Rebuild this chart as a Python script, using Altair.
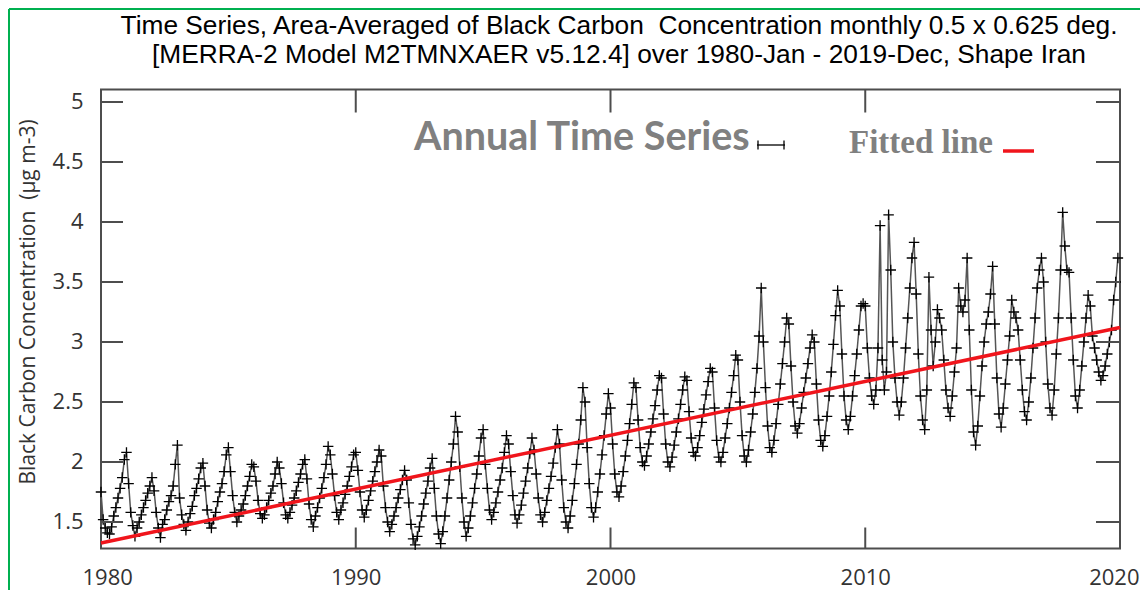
import altair as alt
import pandas as pd

# ---------------- data ----------------
start_year = 1980
months_per_year = 12

values_1980s = [
    1.75, 1.52, 1.45, 1.41, 1.40, 1.46, 1.55, 1.62, 1.70, 1.78, 1.87, 2.02,
    2.08, 1.82, 1.58, 1.47, 1.38, 1.45, 1.50, 1.56, 1.62, 1.68, 1.74, 1.80,
    1.87, 1.76, 1.58, 1.45, 1.37, 1.48, 1.52, 1.60, 1.67, 1.72, 1.80, 1.98,
    2.14, 1.70, 1.56, 1.48, 1.43, 1.50, 1.57, 1.63, 1.72, 1.78, 1.86, 1.95,
    1.99, 1.80, 1.60, 1.49, 1.45, 1.52, 1.58, 1.67, 1.75, 1.82, 1.92, 2.06,
    2.12, 1.92, 1.72, 1.58, 1.50, 1.55, 1.60, 1.65, 1.72, 1.80, 1.88, 1.98,
    1.96, 1.84, 1.68, 1.57, 1.53, 1.56, 1.62, 1.68, 1.74, 1.80, 1.90, 2.00,
    1.95, 1.82, 1.66, 1.56, 1.53, 1.58, 1.64, 1.70, 1.76, 1.83, 1.90, 1.98,
    2.02, 1.86, 1.65, 1.52, 1.46, 1.55, 1.62, 1.70, 1.78, 1.87, 1.98, 2.13,
    2.06, 1.90, 1.72, 1.58, 1.52, 1.60, 1.66, 1.73, 1.80, 1.88, 1.96, 2.06,
]
values_1990s = [
    2.08, 1.93, 1.75, 1.60, 1.54, 1.60, 1.68, 1.76, 1.84, 1.92, 2.00, 2.10,
    2.05, 1.80, 1.62, 1.50, 1.42, 1.48, 1.55, 1.62, 1.70, 1.77, 1.85, 1.93,
    1.85, 1.66, 1.48, 1.36, 1.31, 1.38, 1.46, 1.55, 1.65, 1.74, 1.84, 1.95,
    2.03, 1.78, 1.55, 1.40, 1.32, 1.42, 1.55, 1.70, 1.85, 2.00, 2.15, 2.38,
    2.25, 1.96, 1.70, 1.50, 1.38, 1.45, 1.55, 1.66, 1.78, 1.90, 2.05, 2.20,
    2.27, 1.98, 1.78, 1.60, 1.52, 1.58, 1.66, 1.75, 1.85, 1.95, 2.08, 2.22,
    2.15, 1.92, 1.72, 1.56, 1.49, 1.56, 1.64, 1.74, 1.84, 1.95, 2.07, 2.20,
    2.10, 1.90, 1.70, 1.56, 1.50, 1.58, 1.68, 1.78, 1.88, 1.99, 2.12, 2.27,
    2.15, 1.85, 1.62, 1.50, 1.45, 1.55, 1.68, 1.82, 1.98, 2.15, 2.35, 2.62,
    2.50, 2.12, 1.82, 1.62, 1.54, 1.62, 1.75, 1.90, 2.06, 2.22, 2.40, 2.57,
]
values_2000s = [
    2.45, 2.15, 1.90, 1.75, 1.71, 1.80, 1.92, 2.05, 2.18, 2.32, 2.48, 2.66,
    2.62, 2.35, 2.12, 2.00, 1.97, 2.05, 2.15, 2.25, 2.36, 2.47, 2.60, 2.72,
    2.70, 2.40, 2.15, 2.00, 1.96, 2.04, 2.14, 2.25, 2.36, 2.48, 2.60, 2.71,
    2.68, 2.42, 2.20, 2.08, 2.05, 2.12, 2.22, 2.33, 2.44, 2.56, 2.67, 2.78,
    2.75, 2.45, 2.18, 2.04, 2.00, 2.08, 2.20, 2.32, 2.45, 2.58, 2.72, 2.89,
    2.85, 2.50, 2.22, 2.05, 2.00, 2.10, 2.25, 2.40, 2.58, 2.78, 3.05, 3.45,
    3.00, 2.62, 2.30, 2.12, 2.08, 2.18, 2.32, 2.48, 2.65, 2.82, 3.00, 3.20,
    3.15, 2.80, 2.50, 2.30, 2.24, 2.32, 2.45, 2.58, 2.70, 2.82, 2.95, 3.06,
    3.00, 2.65, 2.35, 2.18, 2.13, 2.22, 2.38, 2.55, 2.75, 2.98, 3.22, 3.43,
    3.30, 2.90, 2.55, 2.35, 2.27, 2.38, 2.55, 2.72, 2.90, 3.10, 3.30, 3.32,
]
values_2010s = [
    3.30, 2.95, 2.70, 2.55, 2.48, 2.60, 2.95, 3.97, 2.85, 2.60, 2.75, 4.06,
    3.60, 3.00, 2.70, 2.50, 2.39, 2.50, 2.70, 2.95, 3.20, 3.45, 3.70, 3.83,
    3.40, 2.90, 2.55, 2.35, 2.27, 2.60, 3.54, 3.10, 2.80, 3.00, 3.27, 3.20,
    3.10, 2.85, 2.60, 2.45, 2.38, 2.55, 2.75, 2.95, 3.45, 3.30, 3.25, 3.35,
    3.70, 3.10, 2.60, 2.25, 2.14, 2.30, 2.55, 2.80, 3.00, 3.15, 3.25, 3.40,
    3.63, 3.15, 2.70, 2.40, 2.29, 2.45, 2.65, 2.85, 3.05, 3.35, 3.25, 3.20,
    3.10, 2.85, 2.60, 2.42, 2.35, 2.50, 2.70, 2.95, 3.20, 3.45, 3.60, 3.70,
    3.50, 3.00, 2.65, 2.45, 2.39, 2.60, 2.90, 3.20, 3.60, 4.08, 3.80, 3.60,
    3.58, 3.20, 2.85, 2.55, 2.45, 2.60, 2.80, 3.00, 3.20, 3.39, 3.30, 3.05,
    2.95, 2.85, 2.75, 2.68, 2.72, 2.80, 2.90, 3.00, 3.10, 3.35, 3.50, 3.70,
]

fit_years = [1980, 2020]
fit_values = [1.325, 3.12]

y_ticks = [1.5, 2.0, 2.5, 3.0, 3.5, 4.0, 4.5, 5.0]
x_ticks = [1980, 1990, 2000, 2010, 2020]
inner_x_ticks = [1990, 2000, 2010]

title_lines = [
    "Time Series, Area-Averaged of Black Carbon\u00a0 Concentration monthly 0.5 x 0.625 deg.",
    "[MERRA-2 Model M2TMNXAER v5.12.4] over 1980-Jan - 2019-Dec, Shape Iran",
]
y_title = "Black Carbon Concentration\u00a0\u00a0(\u00b5g m-3)"
legend_series = "Annual Time Series"
legend_fit = "Fitted line"

# ---------------- tables ----------------
all_values = values_1980s + values_1990s + values_2000s + values_2010s
series = pd.DataFrame({
    "year": [start_year + i / months_per_year for i in range(len(all_values))],
    "value": all_values,
})
fit = pd.DataFrame({"year": fit_years, "value": fit_values})
yt = pd.DataFrame({"value": y_ticks})
xt = pd.DataFrame({"year": inner_x_ticks})
one = pd.DataFrame({"k": [0]})

# ---------------- layout ----------------
W, H = 1019, 459
xscale = alt.Scale(domain=[1980, 2020], nice=False, zero=False)
yscale = alt.Scale(domain=[1.279, 5.104], nice=False, zero=False)

xaxis = alt.Axis(values=x_ticks, format="d", title=None, labelFlush=True,
                 labelFlushOffset=19, labelOverlap=False, labelPadding=19,
                 ticks=False, tickSize=0, domain=False, grid=False)
yaxis = alt.Axis(values=y_ticks, format="~g", title=y_title, labelPadding=18,
                 ticks=False, tickSize=0, domain=False, grid=False,
                 titleFont="Open Sans", titleFontSize=21, titleFontWeight="normal",
                 titleColor="#333333", titleAngle=270, titleX=-73, titleY=212,
                 titleAlign="center", titleBaseline="middle")

X = alt.X("year:Q", scale=xscale, axis=xaxis)
Y = alt.Y("value:Q", scale=yscale, axis=yaxis)

plus = "M-1,0H1M0,-1V1"

line = alt.Chart(series).mark_line(color="#555555", strokeWidth=1.5).encode(x=X, y=Y)
pts = alt.Chart(series).mark_point(shape=plus, filled=False, color="#000000",
                                   size=110, strokeWidth=1.3, opacity=1).encode(x=X, y=Y)
fitline = alt.Chart(fit).mark_line(color="#f0151c", strokeWidth=3.5).encode(x=X, y=Y)

tick_color = "#4d4d4d"
ytick_left = alt.Chart(yt).mark_rule(color=tick_color, strokeWidth=2).encode(
    y=Y, x=alt.value(0), x2=alt.value(22))
ytick_right = alt.Chart(yt).mark_rule(color=tick_color, strokeWidth=2).encode(
    y=Y, x=alt.value(W - 24), x2=alt.value(W))
xtick_top = alt.Chart(xt).mark_rule(color=tick_color, strokeWidth=2).encode(
    x=X, y=alt.value(0), y2=alt.value(23))
xtick_bottom = alt.Chart(xt).mark_rule(color=tick_color, strokeWidth=2).encode(
    x=X, y=alt.value(H - 21), y2=alt.value(H))

def text_layer(txt, **kw):
    return alt.Chart(pd.DataFrame({"t": [txt]})).mark_text(**kw).encode(text="t:N")

title1 = text_layer(title_lines[0], font="Liberation Sans", fontSize=26.3, color="#000000",
                    align="center", baseline="alphabetic").encode(
    x=alt.value(518), y=alt.value(-55.5))
title2 = text_layer(title_lines[1], font="Liberation Sans", fontSize=26.3, color="#000000",
                    align="center", baseline="alphabetic").encode(
    x=alt.value(518), y=alt.value(-26.5))

leg1 = text_layer(legend_series, font="Lato", fontWeight="bold", fontSize=39.5,
                  color="#808080", align="left", baseline="alphabetic").encode(
    x=alt.value(313), y=alt.value(60.5))
leg2 = text_layer(legend_fit, font="Liberation Serif", fontWeight="bold", fontSize=33,
                  color="#808080", align="left", baseline="alphabetic").encode(
    x=alt.value(748), y=alt.value(63.5))

sym_h = alt.Chart(one).mark_rule(color="#000000", strokeWidth=1.3).encode(
    x=alt.value(656), x2=alt.value(684), y=alt.value(55.5))
sym_l = alt.Chart(one).mark_rule(color="#000000", strokeWidth=1.3).encode(
    x=alt.value(657), y=alt.value(51), y2=alt.value(60))
sym_r = alt.Chart(one).mark_rule(color="#000000", strokeWidth=1.3).encode(
    x=alt.value(683), y=alt.value(51), y2=alt.value(60))
red_dash = alt.Chart(one).mark_rule(color="#f0151c", strokeWidth=3.5).encode(
    x=alt.value(902), x2=alt.value(933), y=alt.value(61.5))

green = "#00b050"
frame_left = alt.Chart(one).mark_rule(color=green, strokeWidth=2).encode(
    x=alt.value(-92), y=alt.value(-80.5), y2=alt.value(H + 45))
frame_top = alt.Chart(one).mark_rule(color=green, strokeWidth=2).encode(
    x=alt.value(-92), x2=alt.value(W + 30), y=alt.value(-80.5))

chart = alt.layer(
    line, pts, fitline,
    ytick_left, ytick_right, xtick_top, xtick_bottom,
    title1, title2, leg1, leg2, sym_h, sym_l, sym_r, red_dash,
    frame_left, frame_top,
).properties(
    width=W, height=H,
    autosize=alt.AutoSizeParams(type="none"),
    padding={"left": 93, "top": 81.5, "right": 20, "bottom": 41},
    background="white",
).configure_view(
    stroke="#4d4d4d", strokeWidth=2
).configure_axis(
    labelFont="Open Sans", labelFontSize=22, labelColor="#333333"
)

chart.save("out.html", embed_options={"renderer": "svg", "actions": False})
